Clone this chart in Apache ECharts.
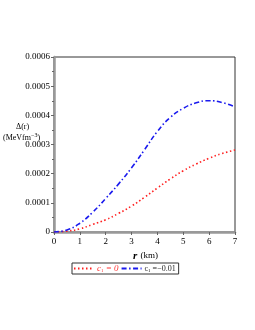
<!DOCTYPE html>
<html><head><meta charset="utf-8">
<script src="https://cdn.jsdelivr.net/npm/echarts@6/dist/echarts.min.js"></script>
<style>html,body{margin:0;padding:0;background:#fff}#c{width:255px;height:330px}</style>
</head><body><div id="c"></div>
<script>
const rValues = [0,0.5,1,1.5,2,2.5,3,3.5,4,4.5,5,5.5,6,6.5,7];
const seriesC0 = [0,0.000003,0.000011,0.000026,0.000042,0.000064,0.000089,0.000119,0.000151,0.000182,0.000210,0.000233,0.000253,0.000269,0.000281];
const seriesC001 = [0,0.000007,0.000030,0.000068,0.000115,0.000165,0.000220,0.000282,0.000345,0.000393,0.000424,0.000443,0.000450,0.000444,0.000429];
const seriesNames = ['c0','c001'];
const yTicks = [0,0.0001,0.0002,0.0003,0.0004,0.0005,0.0006];

const F = 'Liberation Serif';
const chart = echarts.init(document.getElementById('c'));
chart.setOption({
  animation:false,
  grid:{left:54,right:20,top:57,bottom:98,show:true,borderColor:'#333',borderWidth:1},
  xAxis:{type:'value',min:0,max:7,interval:1,
    axisLine:{show:true,onZero:false,lineStyle:{color:'#999',width:2.5}},
    axisTick:{show:true,length:3,lineStyle:{color:'#666'}},
    axisLabel:{fontFamily:F,fontSize:9,color:'#000',margin:5},
    splitLine:{show:false}},
  yAxis:{type:'value',min:0,max:0.0006,interval:0.0001,
    axisLine:{show:true,lineStyle:{color:'#999',width:2.5}},
    axisTick:{show:true,length:3,lineStyle:{color:'#666'}},
    minorTick:{show:true,splitNumber:2,length:2,lineStyle:{color:'#666'}},
    axisLabel:{fontFamily:F,fontSize:9,color:'#000',margin:4,
      formatter:v=>{const t=yTicks.find(x=>Math.abs(x-v)<1e-9);return t===0?'0':t.toFixed(4);}},
    splitLine:{show:false}},
  legend:{left:72,top:263,padding:[1,3,1,1],borderColor:'#333',borderWidth:1,itemGap:2,itemWidth:20,itemHeight:8,
    itemStyle:{opacity:0},
    data:seriesNames,
    formatter:n=> n==='c0' ? '{r|c}{rs|1}{r| = 0}' : '{k|c}{ks|1}{k| =\u22120.01}',
    textStyle:{fontFamily:F,fontSize:8,padding:[0,0,0,-2],rich:{
      r:{color:'#ff3333',fontFamily:F,fontSize:9,fontStyle:'italic'},
      rs:{color:'#ff3333',fontFamily:F,fontSize:5,verticalAlign:'bottom',padding:[4,0,0,0]},
      k:{color:'#222',fontFamily:F,fontSize:8},
      ks:{color:'#222',fontFamily:F,fontSize:5,verticalAlign:'bottom',padding:[4,0,0,0]}}}},
  series:[
    {name:'c0',type:'line',smooth:true,symbol:'none',data:rValues.map((r,i)=>[r,seriesC0[i]]),
      lineStyle:{color:'#ff2020',width:1.6,type:[1.5,2.5]},itemStyle:{color:'#ff2020'}},
    {name:'c001',type:'line',smooth:true,symbol:'none',data:rValues.map((r,i)=>[r,seriesC001[i]]),
      lineStyle:{color:'#1a1aee',width:1.6,type:[5,2.5,1.5,2.5]},itemStyle:{color:'#1a1aee'}}
  ],
  graphic:[
    {type:'text',left:16,top:123,style:{text:'\u0394(r)',fontFamily:F,fontSize:8,fill:'#000'}},
    {type:'text',left:3,top:132,style:{text:'{a|(MeVfm}{b|\u22123}{a|)}',fontFamily:F,fontSize:8,fill:'#000',
      rich:{a:{fontFamily:F,fontSize:8},b:{fontFamily:F,fontSize:6,verticalAlign:'top',padding:[0,0,5,0]}}}},
    {type:'text',left:133,top:250,style:{text:'{r|r} {k|(km)}',
      rich:{r:{fontFamily:F,fontSize:11,fontStyle:'italic',fontWeight:'bold'},k:{fontFamily:F,fontSize:9}}}}
  ]
});
</script></body></html>
